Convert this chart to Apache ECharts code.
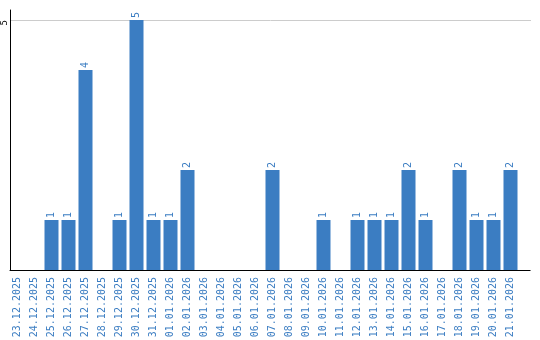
<!DOCTYPE html>
<html><head><meta charset="utf-8">
<script src="https://cdn.jsdelivr.net/npm/echarts@6/dist/echarts.min.js"></script>
<style>html,body{margin:0;padding:0;background:#fff}#c{width:540px;height:340px}</style>
</head><body><div id="c"></div>
<script>
const categories = ["23.12.2025","24.12.2025","25.12.2025","26.12.2025","27.12.2025","28.12.2025","29.12.2025","30.12.2025","31.12.2025","01.01.2026","02.01.2026","03.01.2026","04.01.2026","05.01.2026","06.01.2026","07.01.2026","08.01.2026","09.01.2026","10.01.2026","11.01.2026","12.01.2026","13.01.2026","14.01.2026","15.01.2026","16.01.2026","17.01.2026","18.01.2026","19.01.2026","20.01.2026","21.01.2026"];
const values = [0,0,1,1,4,0,1,5,1,1,2,0,0,0,0,2,0,0,1,0,1,1,1,2,1,0,2,1,1,2];
const yTicks = [5];

const blue = '#3b7dc2';
const chart = echarts.init(document.getElementById('c'));
chart.setOption({
  animation: false,
  grid: [
    {left: 9, width: 510, top: 20, bottom: 70, containLabel: false, outerBoundsMode: 'none'},
    {left: 10, width: 520, top: 10, bottom: 70, containLabel: false, outerBoundsMode: 'none'},
    {left: 10, width: 521, top: 20, bottom: 70, containLabel: false, outerBoundsMode: 'none'}
  ],
  xAxis: [
    {type: 'category', gridIndex: 0, data: categories,
     axisLine: {show: false}, axisTick: {show: false},
     axisLabel: {rotate: 90, margin: 7, color: blue, fontFamily: 'DejaVu Sans Mono', fontSize: 10, interval: 0}},
    {type: 'value', gridIndex: 1, min: 0, max: 1,
     axisLine: {show: true, lineStyle: {color: '#000', width: 1}},
     axisTick: {show: false}, axisLabel: {show: false}, splitLine: {show: false}},
    {type: 'value', gridIndex: 2, min: 0, max: 1, show: false}
  ],
  yAxis: [
    {type: 'value', gridIndex: 0, min: 0, max: 5, interval: 5,
     axisLine: {show: false}, axisTick: {show: false},
     axisLabel: {rotate: 90, margin: 4, align: 'right', verticalAlign: 'middle', color: '#000',
       fontFamily: 'DejaVu Sans Mono', fontSize: 9, lineHeight: 9,
       showMinLabel: false, formatter: v => yTicks.includes(v) ? String(v) : ''},
     splitLine: {show: false}},
    {type: 'value', gridIndex: 1, min: 0, max: 1,
     axisLine: {show: true, lineStyle: {color: '#000', width: 1}},
     axisTick: {show: false}, axisLabel: {show: false}, splitLine: {show: false}},
    {type: 'value', gridIndex: 2, min: 0, max: 5, interval: 5,
     axisLine: {show: false}, axisTick: {show: false}, axisLabel: {show: false},
     splitLine: {show: true, lineStyle: {color: '#cccccc', width: 1}}}
  ],
  series: [{
    type: 'bar', xAxisIndex: 0, yAxisIndex: 0, data: values,
    barWidth: 14, z: 3,
    itemStyle: {color: blue},
    label: {show: true, position: 'top', rotate: 90, align: 'left', verticalAlign: 'middle', distance: 2,
      color: blue, fontFamily: 'DejaVu Sans Mono', fontSize: 10,
      formatter: p => p.value ? String(p.value) : ''}
  }]
});
</script></body></html>
